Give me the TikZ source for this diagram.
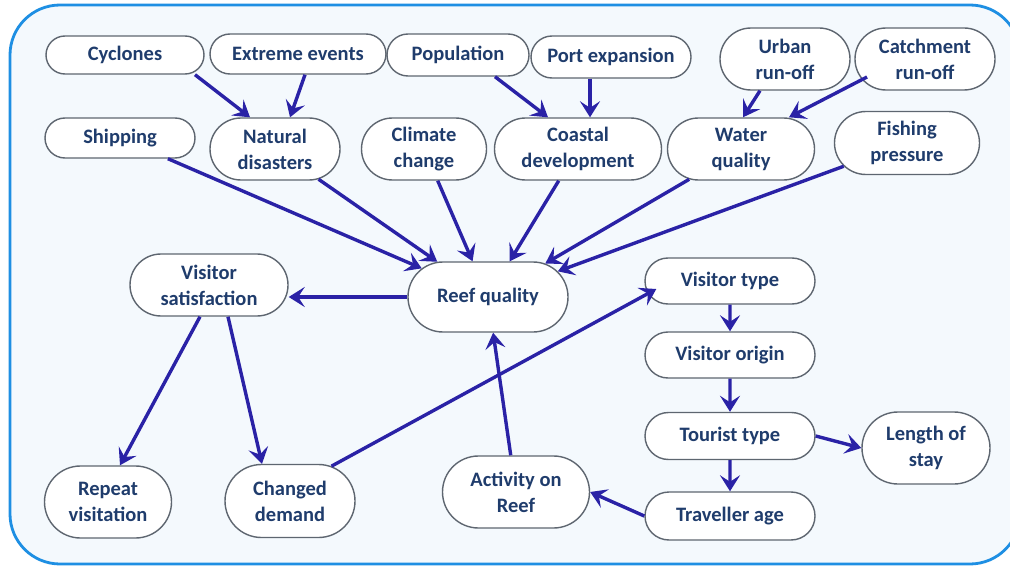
\documentclass[tikz,border=0pt]{standalone}
\usepackage{fontspec}
\setmainfont{Carlito}
\usetikzlibrary{shapes.misc,arrows.meta}
\definecolor{txtblue}{HTML}{1F3C6C}
\definecolor{arrowblue}{HTML}{2A22A6}
\definecolor{boxline}{HTML}{5E6670}
\definecolor{frameblue}{HTML}{1E8FE3}
\definecolor{panelbg}{HTML}{F4F9FD}
\begin{document}
\begin{tikzpicture}[x=1pt,y=-1pt,
  bx/.style 2 args={rounded rectangle, draw=boxline, line width=1.4pt,
    fill=white, text=txtblue, font=\fontsize{20.5}{26}\selectfont\bfseries,
    align=center, inner sep=0pt, minimum width=#1, minimum height=#2},
  link/.style={draw=arrowblue, line width=3.4pt,
    -{Stealth[length=16pt,width=20pt,inset=6.5pt]}}]
% canvas and outer panel
\clip (0,0) rectangle (1010,567);
\fill[white] (0,0) rectangle (1010,567);
\draw[draw=frameblue, line width=2.8pt, fill=panelbg, rounded corners=50pt]
  (10,5) rectangle (1020,564);

% top row of drivers
\node[bx={158}{38}] (cyc)   at (125,55)  {Cyclones};
\node[bx={176}{40}] (ext)   at (298,54)  {Extreme events};
\node[bx={142}{42}] (pop)   at (458,55)  {Population};
\node[bx={160}{42}] (port)  at (611,57)  {Port expansion};
\node[bx={130}{62}] (urb)   at (785,59)  {Urban\\run-off};
\node[bx={140}{62}] (catch) at (925,59)  {Catchment\\run-off};

% second row
\node[bx={150}{40}] (ship)  at (120,138) {Shipping};
\node[bx={130}{62}] (nat)   at (275,149) {Natural\\disasters};
\node[bx={125}{62}] (clim)  at (424,149) {Climate\\change};
\node[bx={167}{62}] (coast) at (578,149) {Coastal\\development};
\node[bx={147}{62}] (wq)    at (741,149) {Water\\quality};
\node[bx={145}{63}] (fish)  at (907,143) {Fishing\\pressure};

% centre
\node[bx={160}{70}] (reef)  at (488,297) {Reef quality};
\node[bx={158}{62}] (vsat)  at (209,285) {Visitor\\satisfaction};

% visitor chain
\node[bx={170}{46}] (vtype) at (730,281) {Visitor type};
\node[bx={170}{46}] (vorig) at (730,355) {Visitor origin};
\node[bx={170}{47}] (ttype) at (730,436) {Tourist type};
\node[bx={170}{48}] (tage)  at (730,516) {Traveller age};
\node[bx={128}{72}] (stay)  at (926,448) {Length of\\stay};
\node[bx={147}{72}] (act)   at (516,492) {Activity on\\Reef};

% outcomes
\node[bx={127}{72}] (rep)   at (108,502) {Repeat\\visitation};
\node[bx={130}{73}] (cdem)  at (290,501) {Changed\\demand};

% links between top rows
\draw[link] ([xshift=70pt]cyc.south) -- ([xshift=-25pt]nat.north);
\draw[link] ([xshift=7pt]ext.south) -- ([xshift=15pt]nat.north);
\draw[link] ([xshift=37pt]pop.south) -- ([xshift=-30pt]coast.north);
\draw[link] ([xshift=-21pt]port.south) -- ([xshift=12pt]coast.north);
\draw[link] ([xshift=-25pt]urb.south) -- ([xshift=2pt]wq.north);
\draw[link] ([xshift=-58pt,yshift=-18pt]catch.center) -- ([xshift=48pt]wq.north);

% drivers of reef quality
\draw[link] (ship) -- (reef);
\draw[link] (nat) -- (reef);
\draw[link] (clim) -- (reef);
\draw[link] (coast) -- (reef);
\draw[link] (wq) -- (reef);
\draw[link] (fish) -- (reef);
\draw[link] (act) -- (reef);

% visitor outcomes
\draw[link] (reef.west) -- (reef.west -| vsat.east);
\draw[link] ([xshift=-9pt]vsat.south) -- ([xshift=12pt]rep.north);
\draw[link] ([xshift=19pt]vsat.south) -- ([xshift=-28pt]cdem.north);
\draw[link] (cdem.40) -- ([xshift=12pt,yshift=-8pt]vtype.west);

% visitor chain
\draw[link] (vtype) -- (vorig);
\draw[link] (vorig) -- (ttype);
\draw[link] (ttype) -- (tage);
\draw[link] (ttype.east) -- (stay.west);
\draw[link] (tage.west) -- (act.east);
\end{tikzpicture}
\end{document}
